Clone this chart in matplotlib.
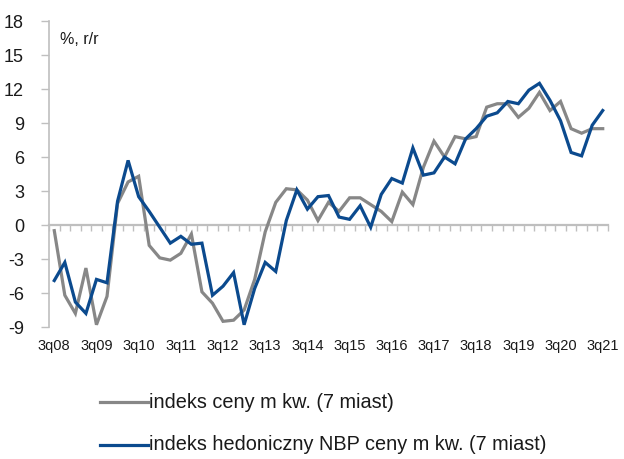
import matplotlib
matplotlib.use("Agg")
import matplotlib.pyplot as plt
from matplotlib.lines import Line2D
from matplotlib.transforms import blended_transform_factory
import numpy as np

plt.rcParams['font.family'] = ['Liberation Sans', 'DejaVu Sans']
plt.rcParams['axes.unicode_minus'] = False

labels = ["3q08", "3q09", "3q10", "3q11", "3q12", "3q13", "3q14",
          "3q15", "3q16", "3q17", "3q18", "3q19", "3q20", "3q21"]

gray_series = [-0.5, -6.2, -7.8, -3.8, -8.8, -6.3, 1.9, 3.8, 4.3, -1.8,
               -2.9, -3.1, -2.5, -0.8, -5.9, -6.9, -8.5, -8.4, -7.5, -4.8,
               -0.6, 2.0, 3.2, 3.1, 2.2, 0.4, 2.0, 1.2, 2.4, 2.4,
               1.8, 1.2, 0.3, 2.9, 1.8, 5.1, 7.4, 6.0, 7.8, 7.6,
               7.8, 10.4, 10.7, 10.7, 9.5, 10.3, 11.7, 10.1, 10.9, 8.5,
               8.1, 8.5, 8.5]

blue_series = [-4.9, -3.3, -6.8, -7.8, -4.8, -5.1, 2.1, 5.7, 2.5, 1.2,
               -0.2, -1.6, -1.0, -1.7, -1.6, -6.2, -5.4, -4.2, -8.8, -5.6,
               -3.3, -4.1, 0.4, 3.1, 1.4, 2.5, 2.6, 0.7, 0.5, 1.7,
               -0.2, 2.7, 4.1, 3.7, 6.8, 4.4, 4.6, 6.0, 5.4, 7.6,
               8.5, 9.6, 9.9, 10.9, 10.7, 11.9, 12.5, 11.0, 9.2, 6.4,
               6.1, 8.8, 10.1]

gray_name = "indeks ceny m kw. (7 miast)"
blue_name = "indeks hedoniczny NBP ceny m kw. (7 miast)"
unit_label = "%, r/r"

W, H = 624, 459
fig = plt.figure(figsize=(W / 100, H / 100), dpi=100)
L, R, T, B = 49, 608, 21, 327
ax = fig.add_axes([L / W, 1 - B / H, (R - L) / W, (B - T) / H])

n = len(gray_series)
x = np.arange(n)
gray_c = "#878787"
blue_c = "#0B4A8E"
ax.plot(x, gray_series, color=gray_c, lw=2.3, solid_joinstyle='miter', zorder=3)
ax.plot(x, blue_series, color=blue_c, lw=2.3, solid_joinstyle='miter', zorder=4)

ax.set_xlim(-0.5, n - 0.5)
ax.set_ylim(-9, 18)
ax.set_yticks(np.arange(-9, 19, 3))
ax.tick_params(axis='y', length=6, width=1, color="#BFBFBF", pad=12,
               labelsize=13, labelcolor="#1a1a1a")

axis_c = "#BFBFBF"
for s in ['top', 'right']:
    ax.spines[s].set_visible(False)
ax.spines['left'].set_color(axis_c)
ax.spines['left'].set_linewidth(1.2)
ax.spines['bottom'].set_position(('data', 0))
ax.spines['bottom'].set_color(axis_c)
ax.spines['bottom'].set_linewidth(1.6)
ax.set_xticks(np.arange(-0.5, n, 1.0))
ax.set_xticklabels([])
ax.tick_params(axis='x', length=4, width=1, color=axis_c, direction='out')

tr = blended_transform_factory(ax.transData, ax.transAxes)
for k, lab in enumerate(labels):
    ax.text(k * 4, -19 / (B - T), lab, transform=tr, ha='center', va='center',
            fontsize=10.5, color="#1a1a1a")

ax.text(60 / W, 1 - 40 / H, unit_label, transform=fig.transFigure,
        fontsize=11.5, color="#1a1a1a", va='center', ha='left')

# legend
for yy, c, name in [(402, gray_c, gray_name), (445, blue_c, blue_name)]:
    fig.add_artist(Line2D([100 / W, 148 / W], [1 - yy / H, 1 - yy / H],
                          transform=fig.transFigure, color=c, lw=2.3))
    fig.text(149 / W, 1 - yy / H, name, fontsize=14.3, color="#1a1a1a",
             va='center', ha='left')

fig.savefig("out.png", dpi=100)
